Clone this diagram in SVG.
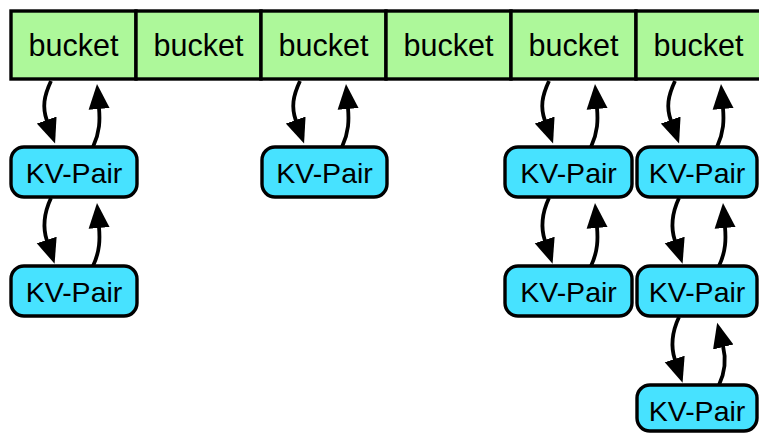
<svg xmlns="http://www.w3.org/2000/svg" width="759" height="433" viewBox="0 0 759 433">
  <style>
    .bucket rect { fill: #adf89a; stroke: #000; stroke-width: 3.4; }
    .kv rect { fill: #47e2ff; stroke: #000; stroke-width: 3.4; }
    text { font-family: "Liberation Sans", Arial, sans-serif; fill: #000; text-anchor: middle; }
    .bucket text { font-size: 30.5px; }
    .kv text { font-size: 28.5px; }
    .link { fill: none; stroke: #000; stroke-width: 3.8; marker-end: url(#head); }
  </style>
  <defs>
    <marker id="head" markerUnits="userSpaceOnUse" markerWidth="26" markerHeight="22" viewBox="0 -11 26 22" refX="1" refY="0" orient="auto">
      <path d="M0,-10.5 L25,0 L0,10.5 z" fill="#000"/>
    </marker>
  </defs>

  <!-- bucket array -->
  <g id="bucket0" class="bucket"><rect x="11" y="11" width="125" height="68"/><text x="73.5" y="56">bucket</text></g>
  <g id="bucket1" class="bucket"><rect x="136" y="11" width="125" height="68"/><text x="198.5" y="56">bucket</text></g>
  <g id="bucket2" class="bucket"><rect x="261" y="11" width="125" height="68"/><text x="323.5" y="56">bucket</text></g>
  <g id="bucket3" class="bucket"><rect x="386" y="11" width="125" height="68"/><text x="448.5" y="56">bucket</text></g>
  <g id="bucket4" class="bucket"><rect x="511" y="11" width="125" height="68"/><text x="573.5" y="56">bucket</text></g>
  <g id="bucket5" class="bucket"><rect x="636" y="11" width="125" height="68"/><text x="698.5" y="56">bucket</text></g>

  <!-- key/value pairs chained to each bucket -->
  <g id="kv0a" class="kv"><rect x="11" y="147" width="126" height="50" rx="13"/><text x="74" y="183">KV-Pair</text></g>
  <g id="kv0b" class="kv"><rect x="11" y="266" width="126" height="50" rx="13"/><text x="74" y="302">KV-Pair</text></g>
  <g id="kv2a" class="kv"><rect x="262" y="147" width="125" height="50" rx="13"/><text x="324.5" y="183">KV-Pair</text></g>
  <g id="kv4a" class="kv"><rect x="505" y="147" width="127" height="50" rx="13"/><text x="568.5" y="183">KV-Pair</text></g>
  <g id="kv4b" class="kv"><rect x="505" y="266" width="127" height="50" rx="13"/><text x="568.5" y="302">KV-Pair</text></g>
  <g id="kv5a" class="kv"><rect x="637" y="147" width="120" height="50" rx="13"/><text x="697" y="183">KV-Pair</text></g>
  <g id="kv5b" class="kv"><rect x="637" y="266" width="120" height="50" rx="13"/><text x="697" y="302">KV-Pair</text></g>
  <g id="kv5c" class="kv"><rect x="637" y="385" width="120" height="46" rx="13"/><text x="697" y="421">KV-Pair</text></g>

  <!-- forward / back links -->
  <g id="links">
    <path class="link" d="M51,81 C44,96 42,107 47,121"/>
    <path class="link" d="M93,147 C100,132 100,120 99,108"/>
    <path class="link" d="M51,198 C44,213 42,226 47,241"/>
    <path class="link" d="M93,266 C100,251 100,239 99,227"/>

    <path class="link" d="M300,81 C293,96 291,107 296,121"/>
    <path class="link" d="M342,147 C349,132 349,120 348,108"/>

    <path class="link" d="M549,81 C542,96 540,107 545,121"/>
    <path class="link" d="M591,147 C598,132 598,120 597,108"/>
    <path class="link" d="M549,198 C542,213 540,226 545,241"/>
    <path class="link" d="M591,266 C598,251 598,239 597,227"/>

    <path class="link" d="M675,81 C668,96 666,107 671,121"/>
    <path class="link" d="M717,147 C724,132 724,120 723,108"/>
    <path class="link" d="M679,198 C672,213 670,226 675,241"/>
    <path class="link" d="M719,266 C726,251 726,239 725,227"/>
    <path class="link" d="M679,317 C672,332 670,345 675,360"/>
    <path class="link" d="M719,385 C726,370 726,358 723,346"/>
  </g>
</svg>
